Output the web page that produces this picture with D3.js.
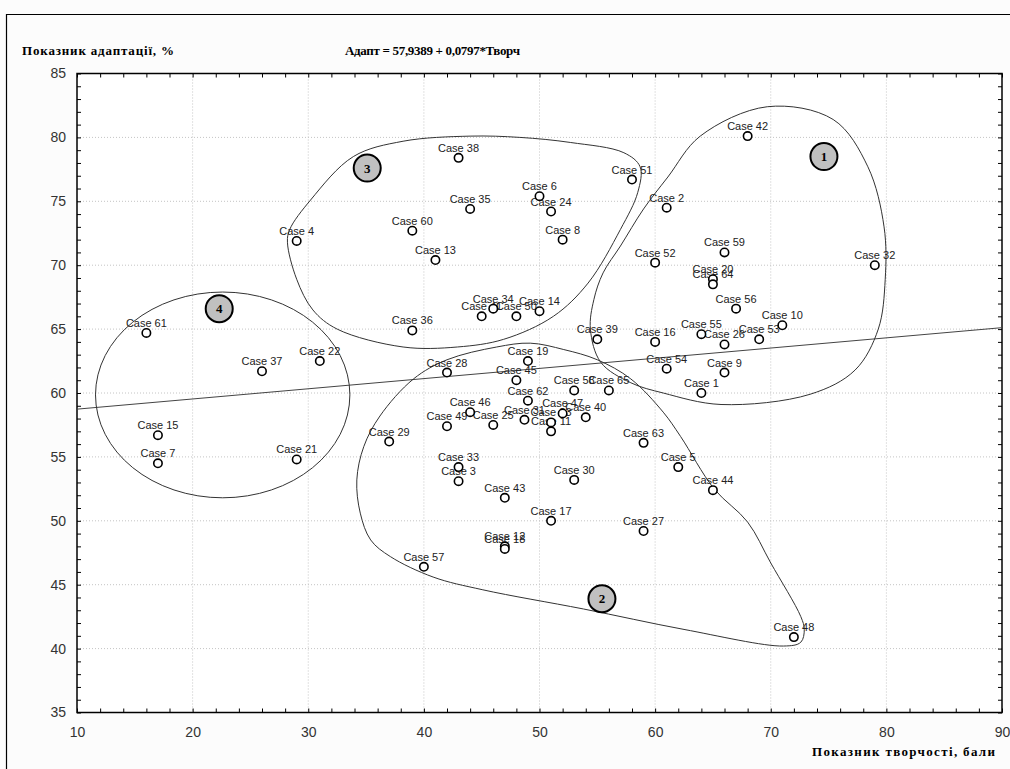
<!DOCTYPE html>
<html><head><meta charset="utf-8">
<script src="https://cdn.jsdelivr.net/npm/d3@7"></script>
<style>body{margin:0;background:#fcfcfc}svg{display:block}</style>
</head><body><svg id="c" width="1010" height="769"></svg>
<script>
const caseIds = [1,2,3,4,5,6,7,8,9,10,11,12,13,14,15,16,17,18,19,20,21,22,23,24,25,26,27,28,29,30,31,32,33,34,35,36,37,38,39,40,41,42,43,44,45,46,47,48,49,50,51,52,53,54,55,56,57,58,59,60,61,62,63,64,65];
const creativity = [64,61,43,29,62,50,17,52,66,71,51,47,41,50,17,60,51,47,49,65,29,31,51,51,46,66,59,42,37,53,48.7,79,43,46,44,39,26,43,55,54,45,68,47,65,48,44,52,72,42,48,58,60,69,61,64,67,40,53,66,39,16,49,59,65,56];
const adaptation = [60.0,74.5,53.1,71.9,54.2,75.4,54.5,72.0,61.6,65.3,57.0,48.0,70.4,66.4,56.7,64.0,50.0,47.8,62.5,68.9,54.8,62.5,57.7,74.2,57.5,63.8,49.2,61.6,56.2,53.2,57.9,70.0,54.2,66.6,74.4,64.9,61.7,78.4,64.2,58.1,66.0,80.1,51.8,52.4,61.0,58.5,58.4,40.9,57.4,66.0,76.7,70.2,64.2,61.9,64.6,66.6,46.4,60.2,71.0,72.7,64.7,59.4,56.1,68.5,60.2];
const xTicks = [10,20,30,40,50,60,70,80,90];
const yTicks = [35,40,45,50,55,60,65,70,75,80,85];
const regIntercept = 57.9389, regSlope = 0.0797;
const titleY = "Показник адаптації, %";
const titleEq = "Адапт = 57,9389 + 0,0797*Творч";
const titleX = "Показник творчості, бали";
// cluster outlines (data units)
const cluster1 = [[69.7,82.4],[75.4,81.4],[78.4,77.7],[79.8,73.0],[79.9,68.9],[79.3,65.0],[77.3,61.8],[73.4,59.9],[65.7,59.1],[60.7,60.0],[57.9,60.8],[55.3,62.4],[54.4,65.0],[54.7,67.3],[55.5,69.4],[57.0,71.5],[59.0,74.4],[61.1,76.9],[63.9,80.1]];
const cluster2 = [[36.2,58.2],[39.1,61.1],[42.0,62.6],[46.3,63.6],[49.2,63.9],[52.1,63.4],[55.0,62.6],[57.9,61.1],[60.7,58.5],[62.2,56.6],[65.1,52.5],[68.0,49.9],[70.0,46.7],[72.6,42.5],[72.9,41.5],[72.6,40.5],[71.1,40.2],[62.5,41.5],[53.8,43.1],[45.1,44.6],[40.8,45.6],[37.1,47.2],[35.4,48.5],[34.5,50.6],[34.2,53.2],[34.8,55.8]];
const cluster3 = [[44.0,80.1],[38.2,79.7],[33.9,78.5],[30.2,75.1],[28.4,72.8],[28.2,71.8],[29.0,68.9],[30.4,66.5],[32.5,65.0],[38.2,63.6],[42.9,63.6],[46.9,64.2],[51.2,66.0],[54.2,68.6],[57.0,72.8],[58.5,75.7],[58.7,77.7],[57.3,78.8],[52.7,79.6],[48.3,80.0]];
const cluster4 = {cx:22.6, cy:59.85, rx:11.0, ry:8.05};
const badgeLabels = ["1","2","3","4"];
const badgeX = [74.6,55.4,35.1,22.3];
const badgeY = [78.5,43.9,77.6,66.6];

const svg = d3.select("#c");
const L=77,R=1002,T=73.5,B=712.5;
const x = d3.scaleLinear([10,90],[L,R]);
const y = d3.scaleLinear([35,85],[B,T]);

svg.append("rect").attr("width",1010).attr("height",769).attr("fill","#fcfcfc");
svg.append("path").attr("d","M6.5,769 V14.5 H1010").attr("fill","none").attr("stroke","#000").attr("stroke-width",1.2);
svg.append("rect").attr("x",L).attr("y",T).attr("width",R-L).attr("height",B-T).attr("fill","#fff");

// grid
const g = svg.append("g");
g.selectAll("line.gx").data(xTicks.slice(1,-1)).join("line")
 .attr("x1",d=>x(d)).attr("x2",d=>x(d)).attr("y1",T).attr("y2",B)
 .attr("stroke","#c4c4c4").attr("stroke-dasharray","1,2");
g.selectAll("line.gy").data(yTicks.slice(1,-1)).join("line")
 .attr("y1",d=>y(d)).attr("y2",d=>y(d)).attr("x1",L).attr("x2",R)
 .attr("stroke","#c4c4c4").attr("stroke-dasharray","1,2");

const xMinor = d3.range(10,90.1,2), yMinor = d3.range(35,85.1,1);
function styleAxis(sel){sel.select(".domain").remove();sel.selectAll("line").attr("stroke","#000");sel.selectAll("text").attr("fill","#333").attr("font-family","Arial, 'Liberation Sans', sans-serif").attr("font-size",14);}
svg.append("g").attr("transform",`translate(0,${B})`).call(d3.axisBottom(x).tickValues(xMinor).tickSize(-4).tickFormat(""));
svg.append("g").attr("transform",`translate(0,${B})`).call(d3.axisBottom(x).tickValues(xTicks).tickSize(0).tickPadding(15).tickFormat(d3.format("d"))).call(styleAxis);
svg.append("g").attr("transform",`translate(0,${T})`).call(d3.axisTop(x).tickValues(xMinor).tickSize(-4).tickFormat("")).call(styleAxis);
svg.append("g").attr("transform",`translate(${L},0)`).call(d3.axisLeft(y).tickValues(yMinor).tickSize(-4).tickFormat("")).call(styleAxis);
svg.append("g").attr("transform",`translate(${L},0)`).call(d3.axisLeft(y).tickValues(yTicks).tickSize(0).tickPadding(11).tickFormat(d3.format("d"))).call(styleAxis);
svg.append("g").attr("transform",`translate(${R},0)`).call(d3.axisRight(y).tickValues(yMinor).tickSize(-4).tickFormat("")).call(styleAxis);
svg.selectAll("g .domain").remove();
svg.selectAll("g .tick line").attr("stroke","#000");
svg.append("rect").attr("x",L).attr("y",T).attr("width",R-L).attr("height",B-T).attr("fill","none").attr("stroke","#000").attr("stroke-width",1.5);

// regression line
svg.append("line").attr("x1",x(10)).attr("y1",y(regIntercept+regSlope*10)).attr("x2",x(90)).attr("y2",y(regIntercept+regSlope*90)).attr("stroke","#444").attr("stroke-width",1);

// clusters
const line = d3.line().x(d=>x(d[0])).y(d=>y(d[1])).curve(d3.curveCatmullRomClosed.alpha(0.5));
svg.selectAll("path.cl").data([cluster1,cluster2,cluster3]).join("path").attr("class","cl")
 .attr("d",line).attr("fill","none").attr("stroke","#333").attr("stroke-width",1);
svg.append("ellipse").attr("cx",x(cluster4.cx)).attr("cy",y(cluster4.cy))
 .attr("rx",x(cluster4.cx+cluster4.rx)-x(cluster4.cx)).attr("ry",y(cluster4.cy)-y(cluster4.cy+cluster4.ry))
 .attr("fill","none").attr("stroke","#333").attr("stroke-width",1);

// points
const pts = caseIds.map((id,i)=>({id,x:creativity[i],y:adaptation[i]}));
const pg = svg.append("g");
pg.selectAll("text").data(pts).join("text").attr("x",d=>x(d.x)).attr("y",d=>y(d.y)-6)
 .attr("text-anchor","middle").attr("font-family","Arial, 'Liberation Sans', sans-serif").attr("font-size",11).attr("fill","#222")
 .text(d=>"Case "+d.id);
pg.selectAll("circle").data(pts).join("circle").attr("cx",d=>x(d.x)).attr("cy",d=>y(d.y)).attr("r",4.2)
 .attr("fill","#fff").attr("stroke","#000").attr("stroke-width",1.6);

// badges
const bg = svg.append("g").selectAll("g").data(badgeLabels).join("g")
 .attr("transform",(d,i)=>`translate(${x(badgeX[i])},${y(badgeY[i])})`);
bg.append("circle").attr("r",13.5).attr("fill","#c0c0c0").attr("stroke","#000").attr("stroke-width",2);
bg.append("text").attr("text-anchor","middle").attr("dy","0.35em").attr("font-family","'Liberation Serif', 'Times New Roman', serif").attr("font-weight","bold").attr("font-size",13).text(d=>d);

// titles
const serif="'Liberation Serif', 'Times New Roman', serif";
svg.append("text").attr("x",22).attr("y",55).attr("font-family",serif).attr("font-weight","bold").attr("font-size",13)
 .attr("textLength",152).attr("lengthAdjust","spacing").text(titleY);
svg.append("text").attr("x",345).attr("y",55).attr("font-family",serif).attr("font-weight","bold").attr("font-size",13)
 .attr("textLength",175).attr("lengthAdjust","spacing").text(titleEq);
svg.append("text").attr("x",812).attr("y",756).attr("font-family",serif).attr("font-weight","bold").attr("font-size",13)
 .attr("textLength",183).attr("lengthAdjust","spacing").text(titleX);
</script></body></html>
